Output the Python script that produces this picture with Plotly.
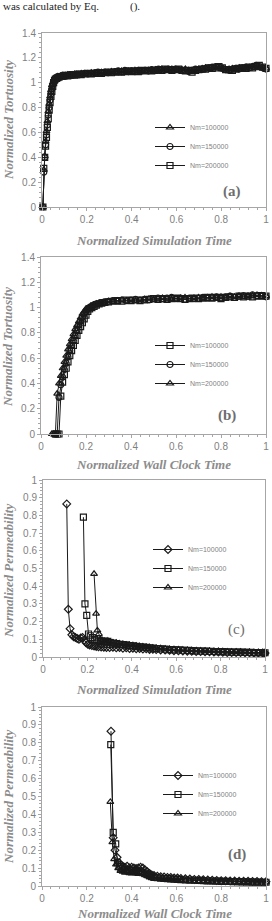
import plotly.graph_objects as go

W, H = 272, 921

# ---------------- Panel (a): tortuosity vs normalized simulation time ----------------
xa = [0.004, 0.008, 0.012, 0.016, 0.020, 0.024, 0.028, 0.032, 0.036, 0.040, 0.044, 0.048,
      0.052, 0.056, 0.060, 0.065, 0.070, 0.076, 0.082, 0.090, 0.098, 0.106, 0.115, 0.125,
      0.135, 0.145, 0.155, 0.165, 0.175, 0.190, 0.205, 0.220, 0.235, 0.250, 0.265, 0.280,
      0.295, 0.310, 0.325, 0.340, 0.355, 0.370, 0.385, 0.400, 0.415, 0.430, 0.445, 0.460,
      0.475, 0.490, 0.505, 0.520, 0.535, 0.550, 0.565, 0.580, 0.595, 0.610, 0.625, 0.640,
      0.655, 0.670, 0.685, 0.700, 0.715, 0.730, 0.745, 0.760, 0.775, 0.790, 0.805, 0.820,
      0.835, 0.850, 0.865, 0.880, 0.895, 0.910, 0.925, 0.940, 0.955, 0.970, 0.985, 1.000]
a_nm100000 = [0.00, 0.30, 0.41, 0.53, 0.61, 0.69, 0.77, 0.83, 0.89, 0.94, 0.98, 1.00,
              1.02, 1.03, 1.04, 1.045, 1.05, 1.05, 1.055, 1.06, 1.055, 1.06, 1.065, 1.06,
              1.065, 1.07, 1.065, 1.07, 1.075, 1.07, 1.075, 1.08, 1.075, 1.08, 1.085, 1.08,
              1.085, 1.09, 1.085, 1.09, 1.095, 1.09, 1.095, 1.09, 1.10, 1.095, 1.09, 1.095,
              1.10, 1.10, 1.105, 1.10, 1.11, 1.105, 1.10, 1.11, 1.105, 1.10, 1.105, 1.11,
              1.10, 1.095, 1.105, 1.11, 1.115, 1.12, 1.115, 1.12, 1.125, 1.12, 1.11, 1.10,
              1.11, 1.115, 1.11, 1.12, 1.115, 1.12, 1.125, 1.13, 1.135, 1.125, 1.12, 1.115]
a_nm150000 = [0.00, 0.28, 0.40, 0.50, 0.58, 0.66, 0.74, 0.80, 0.86, 0.91, 0.95, 0.98,
              1.01, 1.02, 1.03, 1.04, 1.045, 1.05, 1.05, 1.055, 1.06, 1.055, 1.06, 1.065,
              1.06, 1.065, 1.07, 1.065, 1.07, 1.075, 1.07, 1.075, 1.08, 1.085, 1.08, 1.085,
              1.08, 1.085, 1.09, 1.095, 1.09, 1.10, 1.09, 1.095, 1.09, 1.10, 1.095, 1.10,
              1.095, 1.105, 1.10, 1.11, 1.10, 1.105, 1.11, 1.10, 1.11, 1.105, 1.10, 1.10,
              1.09, 1.10, 1.11, 1.105, 1.11, 1.115, 1.12, 1.125, 1.13, 1.125, 1.115, 1.105,
              1.10, 1.11, 1.115, 1.11, 1.12, 1.125, 1.12, 1.13, 1.14, 1.13, 1.12, 1.11]
a_nm200000 = [0.00, 0.31, 0.40, 0.49, 0.56, 0.64, 0.71, 0.78, 0.84, 0.89, 0.93, 0.97,
              1.00, 1.02, 1.03, 1.035, 1.04, 1.045, 1.05, 1.05, 1.055, 1.06, 1.055, 1.06,
              1.065, 1.06, 1.065, 1.07, 1.065, 1.07, 1.075, 1.07, 1.075, 1.08, 1.075, 1.08,
              1.085, 1.08, 1.085, 1.09, 1.085, 1.09, 1.095, 1.09, 1.095, 1.09, 1.10, 1.095,
              1.10, 1.095, 1.10, 1.105, 1.10, 1.11, 1.105, 1.10, 1.105, 1.11, 1.10, 1.095,
              1.10, 1.085, 1.10, 1.105, 1.11, 1.11, 1.12, 1.115, 1.12, 1.13, 1.12, 1.105,
              1.105, 1.10, 1.11, 1.115, 1.12, 1.115, 1.125, 1.12, 1.13, 1.14, 1.125, 1.115]

# ---------------- Panel (b): tortuosity vs normalized wall clock time ----------------
b_plateau_x = [0.30, 0.32, 0.34, 0.36, 0.38, 0.40, 0.42, 0.44, 0.46, 0.48, 0.50, 0.52,
               0.54, 0.56, 0.58, 0.60, 0.62, 0.64, 0.66, 0.68, 0.70, 0.72, 0.74, 0.76,
               0.78, 0.80, 0.82, 0.84, 0.86, 0.88, 0.90, 0.92, 0.94, 0.96, 0.98, 1.00]
b_nm100000_rise_x = [0.064, 0.072, 0.080, 0.088, 0.096, 0.104, 0.112, 0.120, 0.128, 0.136,
                     0.144, 0.152, 0.160, 0.168, 0.176, 0.184, 0.192, 0.200, 0.208, 0.216,
                     0.226, 0.236, 0.246, 0.258, 0.270, 0.284]
b_nm150000_rise_x = [0.056, 0.064, 0.072, 0.080, 0.088, 0.096, 0.104, 0.112, 0.120, 0.128,
                     0.136, 0.144, 0.152, 0.160, 0.168, 0.176, 0.184, 0.192, 0.200, 0.208,
                     0.218, 0.228, 0.240, 0.252, 0.266, 0.282]
b_nm200000_rise_x = [0.048, 0.056, 0.064, 0.072, 0.080, 0.088, 0.096, 0.104, 0.112, 0.120,
                     0.128, 0.136, 0.144, 0.152, 0.160, 0.168, 0.176, 0.184, 0.192, 0.200,
                     0.210, 0.220, 0.232, 0.246, 0.260, 0.280]
b_nm100000 = [0.00, 0.00, 0.00, 0.30, 0.41, 0.47, 0.52, 0.57, 0.62, 0.66, 0.70, 0.74, 0.78,
              0.82, 0.85, 0.88, 0.91, 0.94, 0.97, 0.99, 1.00, 1.01, 1.02, 1.03, 1.035, 1.04,
              1.045, 1.05, 1.055, 1.05, 1.06, 1.055, 1.06, 1.055, 1.06, 1.065, 1.07, 1.065,
              1.07, 1.065, 1.07, 1.075, 1.07, 1.065, 1.07, 1.075, 1.07, 1.075, 1.08, 1.075,
              1.08, 1.07, 1.08, 1.085, 1.08, 1.09, 1.085, 1.09, 1.085, 1.09, 1.095, 1.09]
b_nm150000 = [0.00, 0.00, 0.00, 0.29, 0.39, 0.45, 0.51, 0.56, 0.61, 0.66, 0.70, 0.74, 0.78,
              0.82, 0.86, 0.89, 0.92, 0.95, 0.97, 0.99, 1.00, 1.015, 1.025, 1.03, 1.04, 1.045,
              1.05, 1.055, 1.05, 1.06, 1.055, 1.06, 1.065, 1.06, 1.065, 1.06, 1.07, 1.075,
              1.07, 1.075, 1.08, 1.07, 1.075, 1.065, 1.075, 1.07, 1.075, 1.08, 1.075, 1.08,
              1.085, 1.08, 1.085, 1.09, 1.08, 1.09, 1.095, 1.09, 1.10, 1.095, 1.09, 1.085]
b_nm200000 = [0.00, 0.00, 0.00, 0.32, 0.40, 0.46, 0.52, 0.57, 0.62, 0.67, 0.71, 0.75, 0.79,
              0.83, 0.86, 0.89, 0.92, 0.95, 0.97, 0.99, 1.00, 1.01, 1.02, 1.03, 1.035, 1.04,
              1.05, 1.05, 1.055, 1.06, 1.055, 1.06, 1.055, 1.06, 1.065, 1.07, 1.065, 1.07,
              1.075, 1.07, 1.065, 1.07, 1.075, 1.08, 1.07, 1.075, 1.08, 1.075, 1.08, 1.085,
              1.08, 1.085, 1.08, 1.09, 1.085, 1.09, 1.085, 1.09, 1.095, 1.10, 1.095, 1.09]

# ---------------- Panel (c): permeability vs normalized simulation time ----------------
c_tail_x = [0.315, 0.330, 0.345, 0.360, 0.375, 0.390, 0.405, 0.420, 0.435, 0.450, 0.465,
            0.480, 0.495, 0.510, 0.530, 0.550, 0.570, 0.590, 0.610, 0.630, 0.650, 0.670,
            0.690, 0.710, 0.730, 0.750, 0.770, 0.790, 0.810, 0.830, 0.850, 0.870, 0.890,
            0.910, 0.930, 0.950, 0.970, 0.990, 1.000]
c_nm100000_head_x = [0.107, 0.114, 0.122, 0.130, 0.138, 0.146, 0.154, 0.162, 0.170, 0.178,
                     0.186, 0.194, 0.202, 0.210, 0.220, 0.230, 0.240, 0.250, 0.262, 0.274,
                     0.286, 0.300]
c_nm150000_head_x = [0.182, 0.189, 0.197, 0.205, 0.213, 0.222, 0.232, 0.242, 0.252, 0.262,
                     0.272, 0.282, 0.292, 0.302]
c_nm200000_head_x = [0.230, 0.239, 0.245, 0.252, 0.260, 0.268, 0.276, 0.284, 0.292, 0.302]
c_nm100000 = [0.865, 0.27, 0.16, 0.125, 0.115, 0.11, 0.105, 0.10, 0.108, 0.11, 0.095, 0.08,
              0.072, 0.068, 0.065, 0.062, 0.06, 0.058, 0.056, 0.055, 0.054, 0.053,
              0.055, 0.052, 0.054, 0.05, 0.052, 0.048, 0.05, 0.047, 0.048, 0.045, 0.046, 0.043,
              0.044, 0.042, 0.04, 0.039, 0.038, 0.036, 0.035, 0.034, 0.033, 0.032, 0.031,
              0.031, 0.03, 0.029, 0.028, 0.028, 0.027, 0.026, 0.026, 0.025, 0.025, 0.024,
              0.024, 0.023, 0.023, 0.022, 0.022]
c_nm150000 = [0.79, 0.30, 0.235, 0.13, 0.12, 0.11, 0.10, 0.095, 0.09, 0.088, 0.09, 0.085,
              0.088, 0.082,
              0.078, 0.075, 0.072, 0.07, 0.068, 0.065, 0.063, 0.06, 0.058, 0.056, 0.054,
              0.052, 0.05, 0.048, 0.046, 0.044, 0.042, 0.041, 0.04, 0.038, 0.037, 0.036,
              0.035, 0.034, 0.033, 0.032, 0.031, 0.03, 0.03, 0.029, 0.028, 0.028, 0.027,
              0.026, 0.026, 0.025, 0.025, 0.024, 0.024]
c_nm200000 = [0.47, 0.245, 0.15, 0.13, 0.10, 0.095, 0.09, 0.088, 0.092, 0.085,
              0.082, 0.08, 0.076, 0.074, 0.07, 0.068, 0.066, 0.064, 0.061, 0.059, 0.057,
              0.055, 0.053, 0.051, 0.049, 0.047, 0.045, 0.044, 0.042, 0.041, 0.04, 0.038,
              0.037, 0.036, 0.035, 0.034, 0.033, 0.032, 0.031, 0.03, 0.029, 0.029, 0.028,
              0.027, 0.027, 0.026, 0.025, 0.025, 0.024]

# ---------------- Panel (d): permeability vs normalized wall clock time ----------------
d_tail_x = [0.360, 0.370, 0.380, 0.390, 0.400, 0.410, 0.420, 0.430, 0.440, 0.450, 0.460,
            0.470, 0.480, 0.490, 0.500, 0.515, 0.530, 0.545, 0.560, 0.575, 0.590, 0.605,
            0.620, 0.640, 0.660, 0.680, 0.700, 0.720, 0.740, 0.760, 0.780, 0.800, 0.820,
            0.840, 0.860, 0.880, 0.900, 0.920, 0.940, 0.960, 0.980, 1.000]
d_nm100000_head_x = [0.308, 0.318, 0.326, 0.335, 0.343, 0.351]
d_nm150000_head_x = [0.307, 0.318, 0.329, 0.337, 0.345, 0.352]
d_nm200000_head_x = [0.305, 0.314, 0.322, 0.330, 0.340, 0.350]
d_nm100000 = [0.865, 0.27, 0.20, 0.16, 0.13, 0.12,
              0.11, 0.105, 0.11, 0.10, 0.105, 0.10, 0.098, 0.10, 0.105, 0.10, 0.09, 0.08,
              0.07, 0.062, 0.058, 0.055, 0.052, 0.05, 0.048, 0.047, 0.045, 0.044, 0.042,
              0.04, 0.039, 0.037, 0.036, 0.035, 0.033, 0.032, 0.031, 0.03, 0.029, 0.028,
              0.028, 0.027, 0.026, 0.026, 0.025, 0.025, 0.024, 0.024]
d_nm150000 = [0.79, 0.30, 0.235, 0.13, 0.11, 0.10,
              0.095, 0.09, 0.092, 0.088, 0.085, 0.088, 0.082, 0.085, 0.08, 0.078, 0.072,
              0.065, 0.058, 0.052, 0.048, 0.046, 0.044, 0.042, 0.041, 0.04, 0.038, 0.037,
              0.036, 0.034, 0.033, 0.032, 0.031, 0.03, 0.029, 0.028, 0.027, 0.026, 0.026,
              0.025, 0.024, 0.024, 0.023, 0.023, 0.022, 0.022, 0.021, 0.021]
d_nm200000 = [0.47, 0.245, 0.15, 0.12, 0.10, 0.085,
              0.08, 0.075, 0.078, 0.072, 0.07, 0.074, 0.07, 0.068, 0.07, 0.066, 0.06,
              0.055, 0.05, 0.045, 0.042, 0.04, 0.039, 0.038, 0.036, 0.035, 0.034, 0.033,
              0.032, 0.031, 0.03, 0.029, 0.028, 0.028, 0.027, 0.026, 0.025, 0.025, 0.024,
              0.024, 0.023, 0.023, 0.022, 0.022, 0.021, 0.021, 0.02, 0.02]

legend_labels = ["Nm=100000", "Nm=150000", "Nm=200000"]

# ---------------- layout helpers ----------------
# plot-area pixel boxes (left, right, top, bottom)
boxes = {
    1: (42, 266, 33, 207),
    2: (41, 266, 257, 434),
    3: (43, 265, 480, 657),
    4: (42, 266, 707, 886),
}

def xd(l, r):
    return [l / W, r / W]

def yd(t, b):
    return [1 - b / H, 1 - t / H]

GRAY_AX = "#a6a6a6"
TICK_COL = "#7f7f7f"
TITLE_COL = "#8c8c8c"
TICK_FONT = dict(family="Liberation Sans", size=10, color=TICK_COL)
TITLE_FONT = dict(family="Liberation Serif", size=13, color=TITLE_COL)

fig = go.Figure()

def add_series(x, y, symbol, name, idx, legend):
    fig.add_trace(go.Scatter(
        x=x, y=y, mode="lines+markers", name=name,
        xaxis="x" if idx == 1 else f"x{idx}",
        yaxis="y" if idx == 1 else f"y{idx}",
        line=dict(color="#1a1a1a", width=1),
        marker=dict(symbol=symbol, size=6, color="#1a1a1a",
                    line=dict(color="#1a1a1a", width=1.2)),
        cliponaxis=False, legend=legend,
    ))

# panel a
add_series(xa, a_nm100000, "triangle-up-open", legend_labels[0], 1, "legend")
add_series(xa, a_nm150000, "circle-open", legend_labels[1], 1, "legend")
add_series(xa, a_nm200000, "square-open", legend_labels[2], 1, "legend")
# panel b
add_series(b_nm100000_rise_x + b_plateau_x, b_nm100000, "square-open", legend_labels[0], 2, "legend2")
add_series(b_nm150000_rise_x + b_plateau_x, b_nm150000, "circle-open", legend_labels[1], 2, "legend2")
add_series(b_nm200000_rise_x + b_plateau_x, b_nm200000, "triangle-up-open", legend_labels[2], 2, "legend2")
# panel c
add_series(c_nm100000_head_x + c_tail_x, c_nm100000, "diamond-open", legend_labels[0], 3, "legend3")
add_series(c_nm150000_head_x + c_tail_x, c_nm150000, "square-open", legend_labels[1], 3, "legend3")
add_series(c_nm200000_head_x + c_tail_x, c_nm200000, "triangle-up-open", legend_labels[2], 3, "legend3")
# panel d
add_series(d_nm100000_head_x + d_tail_x, d_nm100000, "diamond-open", legend_labels[0], 4, "legend4")
add_series(d_nm150000_head_x + d_tail_x, d_nm150000, "square-open", legend_labels[1], 4, "legend4")
add_series(d_nm200000_head_x + d_tail_x, d_nm200000, "triangle-up-open", legend_labels[2], 4, "legend4")

layout = dict(
    width=W, height=H, margin=dict(l=0, r=0, t=0, b=0),
    paper_bgcolor="white", plot_bgcolor="white",
    showlegend=True,
)

yspecs = {1: (1.4, 0.2, 0.04), 2: (1.4, 0.2, 0.04), 3: (1.0, 0.1, 0.02), 4: (1.0, 0.1, 0.02)}

for i, (l, r, t, b) in boxes.items():
    xk = "xaxis" if i == 1 else f"xaxis{i}"
    yk = "yaxis" if i == 1 else f"yaxis{i}"
    xa_name = "x" if i == 1 else f"x{i}"
    ya_name = "y" if i == 1 else f"y{i}"
    ymax, ydt, ymin_dt = yspecs[i]
    layout[xk] = dict(
        domain=xd(l, r), anchor=ya_name, range=[0, 1], dtick=0.2, tick0=0,
        showgrid=False, zeroline=False, showline=True, linecolor=GRAY_AX, linewidth=1,
        mirror=True, ticks="outside", ticklen=3, tickcolor=GRAY_AX,
        minor=dict(ticks="outside", dtick=0.04, ticklen=2, tickcolor=GRAY_AX, showgrid=False),
        tickfont=TICK_FONT, automargin=False, fixedrange=True,
    )
    layout[yk] = dict(
        domain=yd(t, b), anchor=xa_name, range=[0, ymax], dtick=ydt, tick0=0,
        showgrid=False, zeroline=False, showline=True, linecolor=GRAY_AX, linewidth=1,
        mirror=True, ticks="outside", ticklen=3, tickcolor=GRAY_AX,
        minor=dict(ticks="outside", dtick=ymin_dt, ticklen=2, tickcolor=GRAY_AX, showgrid=False),
        tickfont=TICK_FONT, automargin=False, fixedrange=True,
    )

# legends
leg_common = dict(bgcolor="rgba(0,0,0,0)", borderwidth=0, xanchor="left", yanchor="top",
                  font=dict(family="Liberation Sans", size=7, color=TICK_COL),
                  itemwidth=30, tracegroupgap=0)
leg_pos = {"legend": (150, 113), "legend2": (150, 331), "legend3": (148, 535), "legend4": (158, 761)}
for k, (px, py) in leg_pos.items():
    layout[k] = dict(leg_common, x=px / W, y=1 - py / H)

fig.update_layout(**layout)

# axis titles
xtitles = [("Normalized Simulation Time", 240), ("Normalized Wall Clock Time", 464),
           ("Normalized Simulation Time", 689), ("Normalized Wall Clock Time", 913)]
for i, (txt, py) in enumerate(xtitles, start=1):
    l, r, t, b = boxes[i]
    fig.add_annotation(text=f"<b><i>{txt}</i></b>", xref="paper", yref="paper",
                       x=((l + r) / 2) / W, y=1 - py / H, xanchor="center", yanchor="middle",
                       showarrow=False, font=TITLE_FONT)

ytitles = [("Normalized Tortuosity", 120), ("Normalized Tortuosity", 347),
           ("Normalized Permeability", 571), ("Normalized Permeability", 797)]
for txt, py in ytitles:
    fig.add_annotation(text=f"<b><i>{txt}</i></b>", xref="paper", yref="paper",
                       x=8 / W, y=1 - py / H, xanchor="center", yanchor="middle",
                       textangle=-90, showarrow=False, font=TITLE_FONT)

# panel letters
letters = [("<b>(a)</b>", 232, 192), ("<b>(b)</b>", 227, 415), ("(c)", 236, 629), ("<b>(d)</b>", 237, 854)]
for txt, px, py in letters:
    fig.add_annotation(text=txt, xref="paper", yref="paper", x=px / W, y=1 - py / H,
                       xanchor="center", yanchor="middle", showarrow=False,
                       font=dict(family="Liberation Serif", size=15, color="#6e6e6e"))

# caption fragment at the very top
fig.add_annotation(text="was calculated by Eq.", xref="paper", yref="paper",
                   x=1 / W, y=1 - 6 / H, xanchor="left", yanchor="middle", showarrow=False,
                   font=dict(family="Liberation Serif", size=11, color="#222"))
fig.add_annotation(text="().", xref="paper", yref="paper",
                   x=128 / W, y=1 - 6 / H, xanchor="left", yanchor="middle", showarrow=False,
                   font=dict(family="Liberation Serif", size=11, color="#222"))

fig.write_html("out.html")
